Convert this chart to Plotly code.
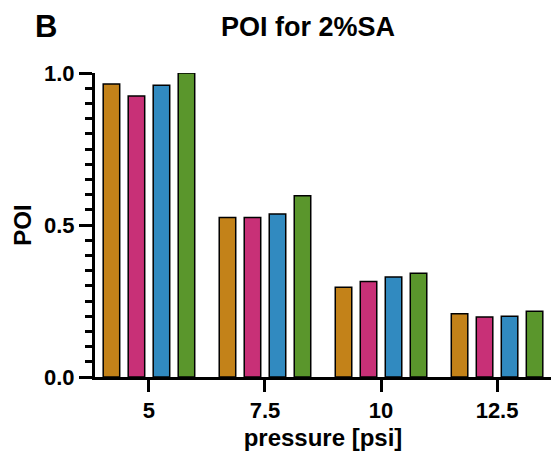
import plotly.graph_objects as go

pressure = ["5", "7.5", "10", "12.5"]
series_names = ["Series 1", "Series 2", "Series 3", "Series 4"]
series_1 = [0.964, 0.525, 0.295, 0.208]
series_2 = [0.924, 0.525, 0.314, 0.197]
series_3 = [0.960, 0.536, 0.329, 0.200]
series_4 = [1.000, 0.596, 0.341, 0.216]
colors = ["#C38219", "#C83077", "#318AC0", "#5A962C"]

FONT = "Liberation Sans, Arial, sans-serif"

fig = go.Figure()
for name, vals, col in zip(series_names, [series_1, series_2, series_3, series_4], colors):
    fig.add_trace(go.Bar(
        x=pressure, y=vals, name=name,
        marker=dict(color=col, line=dict(color="black", width=1.5)),
    ))

fig.update_layout(
    width=551, height=460,
    barmode="group", bargap=0.138, bargroupgap=0.34,
    showlegend=False,
    plot_bgcolor="white", paper_bgcolor="white",
    margin=dict(l=95, r=0, t=73, b=83, autoexpand=False),
    title=dict(text="POI for 2%SA", xref="container", yref="container",
               x=308/551, xanchor="center",
               y=1 - 27/460, yanchor="middle",
               font=dict(family=FONT, size=27, color="black", weight="bold")),
    annotations=[dict(text="B", xref="paper", yref="paper",
                      x=(46 - 95) / 456, y=1 + (73 - 27) / 304,
                      xanchor="center", yanchor="middle", showarrow=False,
                      font=dict(family=FONT, size=31, color="black", weight="bold"))],
)

fig.update_xaxes(
    type="category", range=[-0.465, 3.465], automargin=False,
    showline=True, linecolor="black", linewidth=3,
    ticks="outside", ticklen=12, tickwidth=3, tickcolor="black",
    tickfont=dict(family=FONT, size=22, color="black", weight="bold"),
    title=dict(text="pressure [psi]", standoff=7,
               font=dict(family=FONT, size=24, color="black", weight="bold")),
    showgrid=False, zeroline=False,
)
fig.update_yaxes(
    range=[0, 1], dtick=0.5, tickformat=".1f", automargin=False,
    showline=True, linecolor="black", linewidth=3,
    ticks="outside", ticklen=13, tickwidth=3, tickcolor="black",
    minor=dict(dtick=0.05, ticks="outside", ticklen=7, tickwidth=3, tickcolor="black"),
    tickfont=dict(family=FONT, size=22, color="black", weight="bold"),
    title=dict(text="POI", standoff=6,
               font=dict(family=FONT, size=24, color="black", weight="bold")),
    showgrid=False, zeroline=False,
)

fig.write_html("out.html", config={"displayModeBar": False},
               post_script="document.body.style.margin='0';")
